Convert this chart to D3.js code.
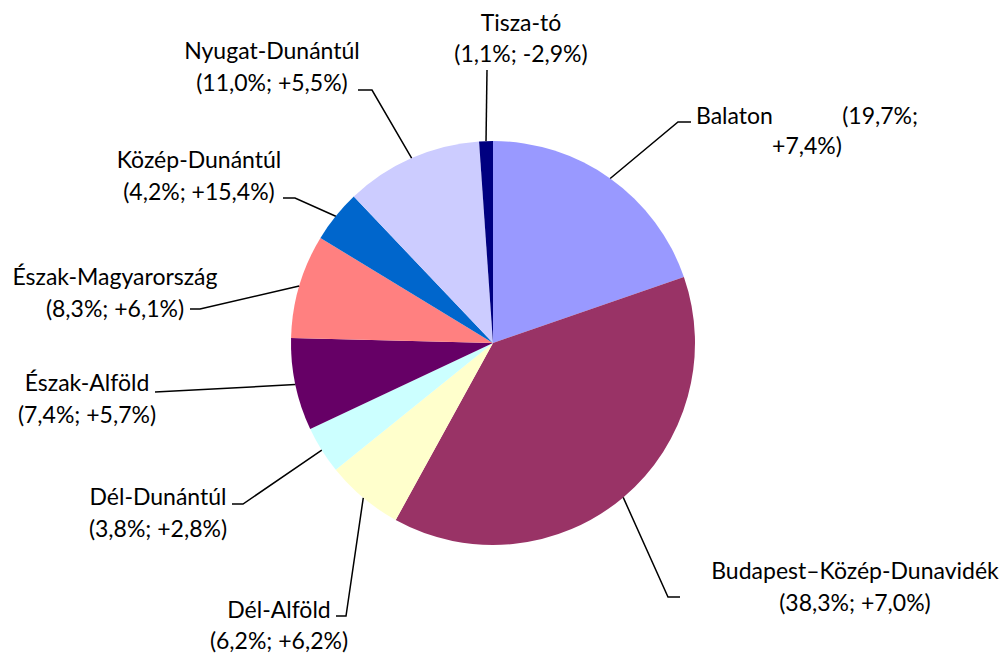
<!DOCTYPE html>
<html><head><meta charset="utf-8">
<script src="https://cdn.jsdelivr.net/npm/d3@7"></script>
<style>html,body{margin:0;padding:0;background:#fff;}svg{display:block;}</style>
</head><body>
<svg id="chart" width="1005" height="653"></svg>
<script>
// ---- data ----
const regions = ["Balaton","Budapest–Közép-Dunavidék","Dél-Alföld","Dél-Dunántúl","Észak-Alföld","Észak-Magyarország","Közép-Dunántúl","Nyugat-Dunántúl","Tisza-tó"];
const shares = [19.7, 38.3, 6.2, 3.8, 7.4, 8.3, 4.2, 11.0, 1.1];
const changes = [7.4, 7.0, 6.2, 2.8, 5.7, 6.1, 15.4, 5.5, -2.9];
const colors = ["#9999FF","#993366","#FFFFCC","#CCFFFF","#660066","#FF8080","#0066CC","#CCCCFF","#000080"];

// ---- layout (label anchors & leader elbows) ----
const labelLayout = [
  {cx: 807, y: 124, dy: 30, split: true, left: 696, right: 918, elbow: [[678,122],[691,122]]},
  {cx: 855, y: 579, dy: 32, elbow: [[668,597],[680,597]]},
  {cx: 279, y: 618, dy: 31, elbow: [[346,616],[336,616]]},
  {cx: 158, y: 505, dy: 32, elbow: [[243,504],[232,504]]},
  {cx: 87, y: 391, dy: 32, elbow: [[155,392]]},
  {cx: 115, y: 285, dy: 32, elbow: [[200,309],[190,309]]},
  {cx: 199, y: 168, dy: 32, elbow: [[295,198],[283,198]]},
  {cx: 272, y: 59, dy: 32, elbow: [[372,90],[358,90]]},
  {cx: 521, y: 31, dy: 31, elbow: [[487,70]]}
];

const fmt = v => v.toFixed(1).replace(".", ",");
const fmtChg = v => (v > 0 ? "+" : (v < 0 ? "-" : "")) + fmt(Math.abs(v));

const svg = d3.select("#chart");
const cx = 493, cy = 343, R = 202;
const g = svg.append("g").attr("transform", `translate(${cx},${cy})`);

const pie = d3.pie().sort(null).value(d => d.share);
const data = regions.map((name, i) => ({name, share: shares[i], change: changes[i], color: colors[i], layout: labelLayout[i]}));
const arcs = pie(data);
const arc = d3.arc().innerRadius(0).outerRadius(R);

g.selectAll("path.slice").data(arcs).enter().append("path")
  .attr("class", "slice")
  .attr("d", arc)
  .attr("fill", d => d.data.color);

const font = "Lato, 'Open Sans', sans-serif";
const fs = 23;

arcs.forEach(d => {
  const a = (d.startAngle + d.endAngle) / 2;
  const start = [cx + R * Math.sin(a), cy - R * Math.cos(a)];
  const pts = [start].concat(d.data.layout.elbow);
  svg.append("path")
    .attr("d", d3.line()(pts))
    .attr("fill", "none")
    .attr("stroke", "#000")
    .attr("stroke-width", 1.5);

  const L = d.data.layout;
  const shareTxt = fmt(d.data.share) + "%";
  const chgTxt = fmtChg(d.data.change) + "%";
  if (L.split) {
    svg.append("text").attr("x", L.left).attr("y", L.y).attr("text-anchor", "start")
      .attr("font-family", font).attr("font-size", fs).text(d.data.name);
    svg.append("text").attr("x", L.right).attr("y", L.y).attr("text-anchor", "end")
      .attr("font-family", font).attr("font-size", fs).text("(" + shareTxt + ";");
    svg.append("text").attr("x", L.cx).attr("y", L.y + L.dy).attr("text-anchor", "middle")
      .attr("font-family", font).attr("font-size", fs).text(chgTxt + ")");
  } else {
    const t = svg.append("text").attr("text-anchor", "middle")
      .attr("font-family", font).attr("font-size", fs).attr("fill", "#000");
    t.append("tspan").attr("x", L.cx).attr("y", L.y).text(d.data.name);
    t.append("tspan").attr("x", L.cx).attr("y", L.y + L.dy).text("(" + shareTxt + "; " + chgTxt + ")");
  }
});
</script>
</body></html>
